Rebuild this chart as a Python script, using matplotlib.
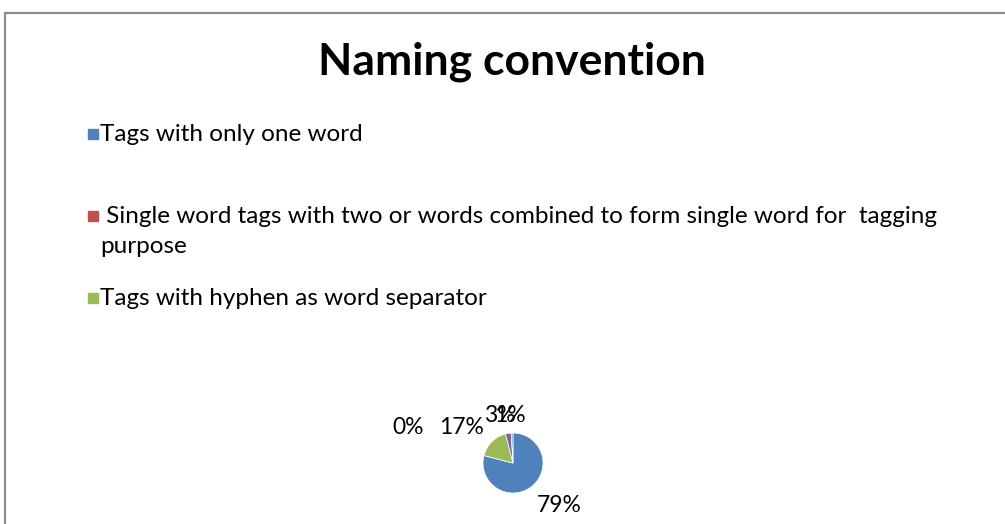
import numpy as np
import matplotlib.pyplot as plt
from matplotlib.patches import Rectangle

# ---------------------------
# Data
# ---------------------------
title = 'Naming convention'
shares = [79, 0, 17, 3, 1]
pct_labels = ['79%', '0%', '17%', '3%', '1%']
slice_colors = ['#4F81BD', '#C0504D', '#9BBB59', '#8064A2', '#4BACC6']
legend_labels = [
    'Tags with only one word',
    ' Single word tags with two or words combined to form single word for  tagging\npurpose',
    'Tags with hyphen as word separator',
]

plt.rcParams['font.family'] = ['Lato', 'DejaVu Sans']

W, H = 1005, 524
fig = plt.figure(figsize=(W / 100, H / 100), dpi=100)

# chart frame (runs off the right / bottom edge like the screenshot)
fig.patches.append(Rectangle((5 / W, -0.1), 1.1, (H - 12.5) / H + 0.1,
                             transform=fig.transFigure, fill=False,
                             edgecolor='#8c8c8c', linewidth=1.6))

fig.text(512 / W, 1 - 62 / H, title, ha='center', va='center',
         fontsize=32, fontweight='bold', color='black')

# ---------------------------
# Legend (manual, keeps Excel's uneven spacing)
# ---------------------------
leg_y = [134, 216, 298]   # first text line of each entry
for lab, col, y in zip(legend_labels, slice_colors, leg_y):
    fig.patches.append(Rectangle((88 / W, 1 - (y + 4.5) / H), 9.5 / W, 9.5 / H,
                                 transform=fig.transFigure, color=col))
    fig.text(100 / W, 1 - (y - 10) / H, lab, ha='left', va='top',
             fontsize=17.5, color='black', linespacing=1.55)

# ---------------------------
# Pie
# ---------------------------
cx, cy, r = 513, 463, 30
span = 3 * r
ax = fig.add_axes([(cx - span) / W, (H - cy - span) / H, 2 * span / W, 2 * span / H])
wedges, _ = ax.pie(shares, colors=slice_colors, startangle=90, counterclock=False,
                   radius=1, wedgeprops=dict(linewidth=0.5, edgecolor='white'))
ax.set_xlim(-3, 3)
ax.set_ylim(-3, 3)
ax.set_aspect('equal')
ax.axis('off')

# data-label spots in pie radii (Excel "best fit" placement)
label_pos = [(1.53, -1.43), (-3.5, 1.2), (-1.7, 1.2), (-0.43, 1.6), (-0.1, 1.6)]
for txt, (lx, ly) in zip(pct_labels, label_pos):
    ax.text(lx, ly, txt, ha='center', va='center',
            fontsize=16.5, color='black', clip_on=False)

fig.savefig('out.png', dpi=100)
plt.close(fig)
